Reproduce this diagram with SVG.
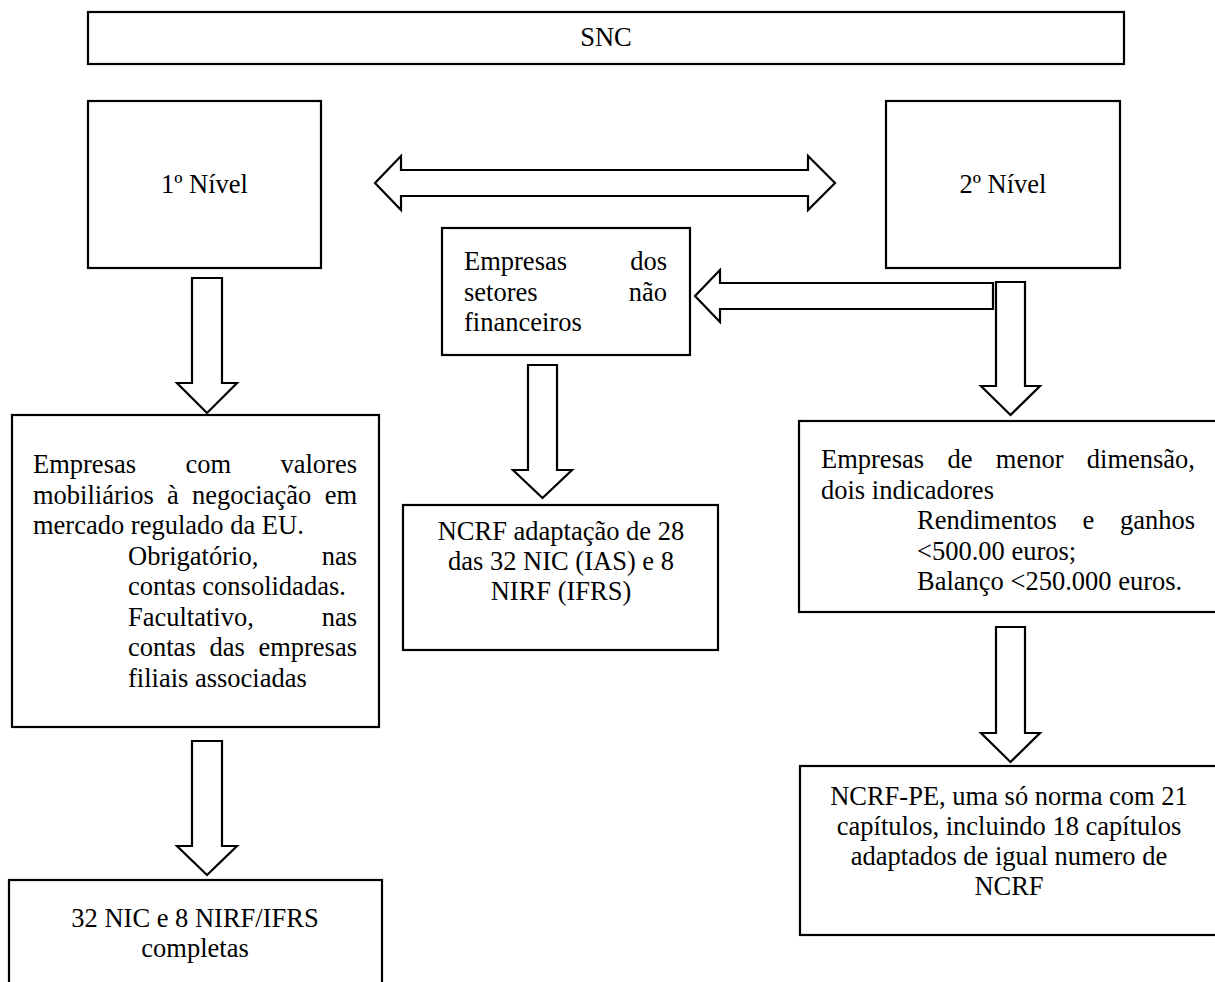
<svg xmlns="http://www.w3.org/2000/svg" width="1215" height="982" viewBox="0 0 1215 982">
<style>
.box{fill:#fff;stroke:#000;stroke-width:2.2}
.arr{fill:#fff;stroke:#000;stroke-width:2.2;stroke-linejoin:miter}
.c{text-anchor:middle}
.e{text-anchor:end}
</style>
<rect width="1215" height="982" fill="#fff"/>
<g id="connectors">
<path class="arr" d="M375,183 L401,156 V170 H808 V156 L835,183 L808,210 V196 H401 V210 Z"/>
<path class="arr" d="M192,278 H222 V383 H237 L207,413 L177,383 H192 Z"/>
<path class="arr" d="M192,741 H222 V846 H237 L207,875 L177,846 H192 Z"/>
<path class="arr" d="M528,365 H557 V470 H572 L542.5,498 L513,470 H528 Z"/>
<path class="arr" d="M993,283 V309 H720 V322 L695,296 L720,270 V283 Z"/>
<path class="arr" d="M996,282 H1025 V386 H1040 L1010.5,415 L981,386 H996 Z"/>
<path class="arr" d="M996,627 H1025 V733 H1040 L1010.5,762 L981,733 H996 Z"/>
</g>
<g font-family="Liberation Serif, Times New Roman, DejaVu Serif, serif" font-size="26.5" fill="#000">
<g id="snc">
<rect class="box" x="88" y="12" width="1036" height="52"/>
<text class="c" x="606" y="46">SNC</text>
</g>
<g id="nivel1">
<rect class="box" x="88" y="101" width="233" height="167"/>
<text class="c" x="204.5" y="193">1º Nível</text>
</g>
<g id="nivel2">
<rect class="box" x="886" y="101" width="234" height="167"/>
<text class="c" x="1003" y="193">2º Nível</text>
</g>
<g id="setores">
<rect class="box" x="442" y="228" width="248" height="127"/>
<text x="464" y="270">Empresas</text>
<text class="e" x="667" y="270">dos</text>
<text x="464" y="300.5">setores</text>
<text class="e" x="667" y="300.5">não</text>
<text x="464" y="331">financeiros</text>
</g>
<g id="empresas-valores">
<rect class="box" x="12" y="415" width="367" height="312"/>
<text x="33" y="473">Empresas</text>
<text x="185.4" y="473">com</text>
<text class="e" x="357" y="473">valores</text>
<text x="33" y="503.5">mobiliários</text>
<text x="167" y="503.5">à</text>
<text x="192" y="503.5">negociação</text>
<text class="e" x="357" y="503.5">em</text>
<text x="33" y="534">mercado regulado da EU.</text>
<text x="128" y="564.5">Obrigatório,</text>
<text class="e" x="357" y="564.5">nas</text>
<text x="128" y="595">contas consolidadas.</text>
<text x="128" y="625.5">Facultativo,</text>
<text class="e" x="357" y="625.5">nas</text>
<text x="128" y="656">contas</text>
<text x="209.4" y="656">das</text>
<text class="e" x="357" y="656">empresas</text>
<text x="128" y="686.5">filiais associadas</text>
</g>
<g id="ncrf">
<rect class="box" x="403" y="505" width="315" height="145"/>
<text class="c" x="561" y="540">NCRF adaptação de 28</text>
<text class="c" x="561" y="570">das 32 NIC (IAS) e 8</text>
<text class="c" x="561" y="600">NIRF (IFRS)</text>
</g>
<g id="menor-dimensao">
<rect class="box" x="799" y="421" width="421" height="191"/>
<text x="821" y="468">Empresas</text>
<text x="947.4" y="468">de</text>
<text x="995.8" y="468">menor</text>
<text class="e" x="1195" y="468">dimensão,</text>
<text x="821" y="498.5">dois indicadores</text>
<text x="917" y="529">Rendimentos</text>
<text x="1082.5" y="529">e</text>
<text class="e" x="1195" y="529">ganhos</text>
<text x="917" y="559.5">&lt;500.00 euros;</text>
<text x="917" y="590">Balanço &lt;250.000 euros.</text>
</g>
<g id="nic-completas">
<rect class="box" x="9" y="880" width="373" height="120"/>
<text class="c" x="195" y="927">32 NIC e 8 NIRF/IFRS</text>
<text class="c" x="195" y="957">completas</text>
</g>
<g id="ncrf-pe">
<rect class="box" x="800" y="766" width="420" height="169"/>
<text class="c" x="1009" y="805">NCRF-PE, uma só norma com 21</text>
<text class="c" x="1009" y="835">capítulos, incluindo 18 capítulos</text>
<text class="c" x="1009" y="865">adaptados de igual numero de</text>
<text class="c" x="1009" y="895">NCRF</text>
</g>
</g>
</svg>
